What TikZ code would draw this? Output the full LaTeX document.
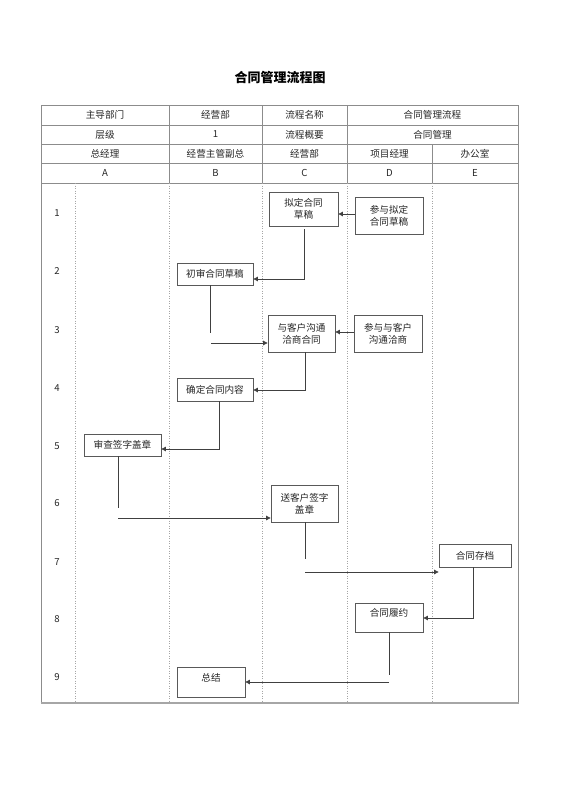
\documentclass[tikz,border=0pt]{standalone}
\usepackage{fontspec}
\setmainfont{Noto Sans CJK SC}
\usetikzlibrary{arrows.meta}
\begin{document}
\begin{tikzpicture}[x=1pt,y=-1pt,
  tline/.style={draw=black!45,line width=0.6pt},
  lane/.style={draw=black!35,line width=0.5pt,dotted},
  hdr/.style={font=\fontsize{9.6}{11}\selectfont,text=black!85,inner sep=0pt},
  num/.style={font=\fontsize{9.6}{11}\selectfont,text=black!85,inner sep=0pt},
  box/.style={draw=black!65,line width=0.8pt,fill=white,align=center,inner sep=1pt,
    font=\fontsize{9.6}{12}\selectfont,text=black!85},
  conn/.style={draw=black!75,line width=0.7pt},
  arr/.style={conn,-{Triangle[length=4.5pt,width=4.5pt]}}
]
\useasboundingbox (0,0) rectangle (560,792);
\fill[white] (0,0) rectangle (560,792);

% title
\node[font=\fontsize{13}{15}\selectfont\bfseries] (title) at (280,78) {合同管理流程图};

% table frame
\draw[tline] (41,105) -- (518,105);
\draw[tline] (41,125) -- (518,125);
\draw[tline] (41,144) -- (518,144);
\draw[tline] (41,163) -- (518,163);
\draw[tline] (41,183) -- (518,183);
\draw[tline] (41,105) -- (41,703);
\draw[tline] (518,105) -- (518,703);
\draw[draw=black!35,line width=1.6pt] (40.5,703) -- (518.5,703);
\draw[tline] (169,105) -- (169,183);
\draw[tline] (262,105) -- (262,183);
\draw[tline] (347,105) -- (347,183);
\draw[tline] (432,144) -- (432,183);
% lanes
\draw[lane] (75,183) -- (75,702);
\draw[lane] (169,183) -- (169,702);
\draw[lane] (262,183) -- (262,702);
\draw[lane] (347,183) -- (347,702);
\draw[lane] (432,183) -- (432,702);

% header texts
\node[hdr] (h11) at (105,115) {主导部门};
\node[hdr] (h12) at (215.5,115) {经营部};
\node[hdr] (h13) at (304.5,115) {流程名称};
\node[hdr] (h14) at (432.5,115) {合同管理流程};
\node[hdr] (h21) at (105,134.5) {层级};
\node[hdr] (h22) at (215.5,134.5) {1};
\node[hdr] (h23) at (304.5,134.5) {流程概要};
\node[hdr] (h24) at (432.5,134.5) {合同管理};
\node[hdr] (h31) at (105,153.5) {总经理};
\node[hdr] (h32) at (215.5,153.5) {经营主管副总};
\node[hdr] (h33) at (304.5,153.5) {经营部};
\node[hdr] (h34) at (389.5,153.5) {项目经理};
\node[hdr] (h35) at (475,153.5) {办公室};
\node[hdr] (h41) at (105,173) {A};
\node[hdr] (h42) at (215.5,173) {B};
\node[hdr] (h43) at (304.5,173) {C};
\node[hdr] (h44) at (389.5,173) {D};
\node[hdr] (h45) at (475,173) {E};

% row numbers
\node[num] (n1) at (57,213) {1};
\node[num] (n2) at (57,271) {2};
\node[num] (n3) at (57,330) {3};
\node[num] (n4) at (57,388) {4};
\node[num] (n5) at (57,446) {5};
\node[num] (n6) at (57,503) {6};
\node[num] (n7) at (57,562) {7};
\node[num] (n8) at (57,619) {8};
\node[num] (n9) at (57,677) {9};

% boxes
\node[box,minimum width=69pt,minimum height=34pt] (b1) at (303.5,209) {拟定合同\\草稿};
\node[box,minimum width=68pt,minimum height=37pt] (d1) at (389,215.5) {参与拟定\\合同草稿};
\node[box,minimum width=76pt,minimum height=22pt] (b2) at (215,274) {初审合同草稿};
\node[box,minimum width=67pt,minimum height=37pt] (b3) at (301.5,333.5) {与客户沟通\\洽商合同};
\node[box,minimum width=68pt,minimum height=37pt] (d3) at (388,333.5) {参与与客户\\沟通洽商};
\node[box,minimum width=76pt,minimum height=23pt] (b4) at (215,389.5) {确定合同内容};
\node[box,minimum width=77pt,minimum height=22pt] (a5) at (122.5,445) {审查签字盖章};
\node[box,minimum width=67pt,minimum height=37pt] (c6) at (304.5,503.5) {送客户签字\\盖章};
\node[box,minimum width=72pt,minimum height=23pt] (e7) at (475,555.5) {合同存档};
\node[box,minimum width=68pt,minimum height=29pt,text height=7pt,text depth=9pt] (d8) at (389,617.5) {合同履约};
\node[box,minimum width=68pt,minimum height=30pt,text height=7pt,text depth=8pt] (b9) at (211,682) {总结};

% bend points
\coordinate (k2) at (304,279);
\coordinate (k3a) at (210,333);
\coordinate (k3b) at (211,343);
\coordinate (k5) at (305,390);
\coordinate (k6) at (219,449);
\coordinate (k7a) at (118,508);
\coordinate (k7b) at (118,518);
\coordinate (k8a) at (305,559);
\coordinate (k8b) at (305,572);
\coordinate (k9) at (473,618);
\coordinate (k10a) at (389,675);
\coordinate (k10b) at (389,682);

% connectors
\draw[arr] (d1.west |- 0,214) -- (b1.east |- 0,214);
\draw[arr,shorten <=3pt] (b1.south -| k2) -- (k2) -- (k2 -| b2.east);
\draw[conn] (b2.south -| k3a) -- (k3a);
\draw[arr] (k3b) -- (k3b -| b3.west);
\draw[arr] (d3.west |- 0,332) -- (b3.east |- 0,332);
\draw[arr] (b3.south -| k5) -- (k5) -- (k5 -| b4.east);
\draw[arr] (b4.south -| k6) -- (k6) -- (k6 -| a5.east);
\draw[conn] (a5.south -| k7a) -- (k7a);
\draw[arr] (k7b) -- (k7b -| c6.west);
\draw[conn] (c6.south -| k8a) -- (k8a);
\draw[arr] (k8b) -- (k8b -| e7.west);
\draw[arr] (e7.south -| k9) -- (k9) -- (k9 -| d8.east);
\draw[conn] (d8.south -| k10a) -- (k10a);
\draw[arr] (k10b) -- (k10b -| b9.east);
\end{tikzpicture}
\end{document}
